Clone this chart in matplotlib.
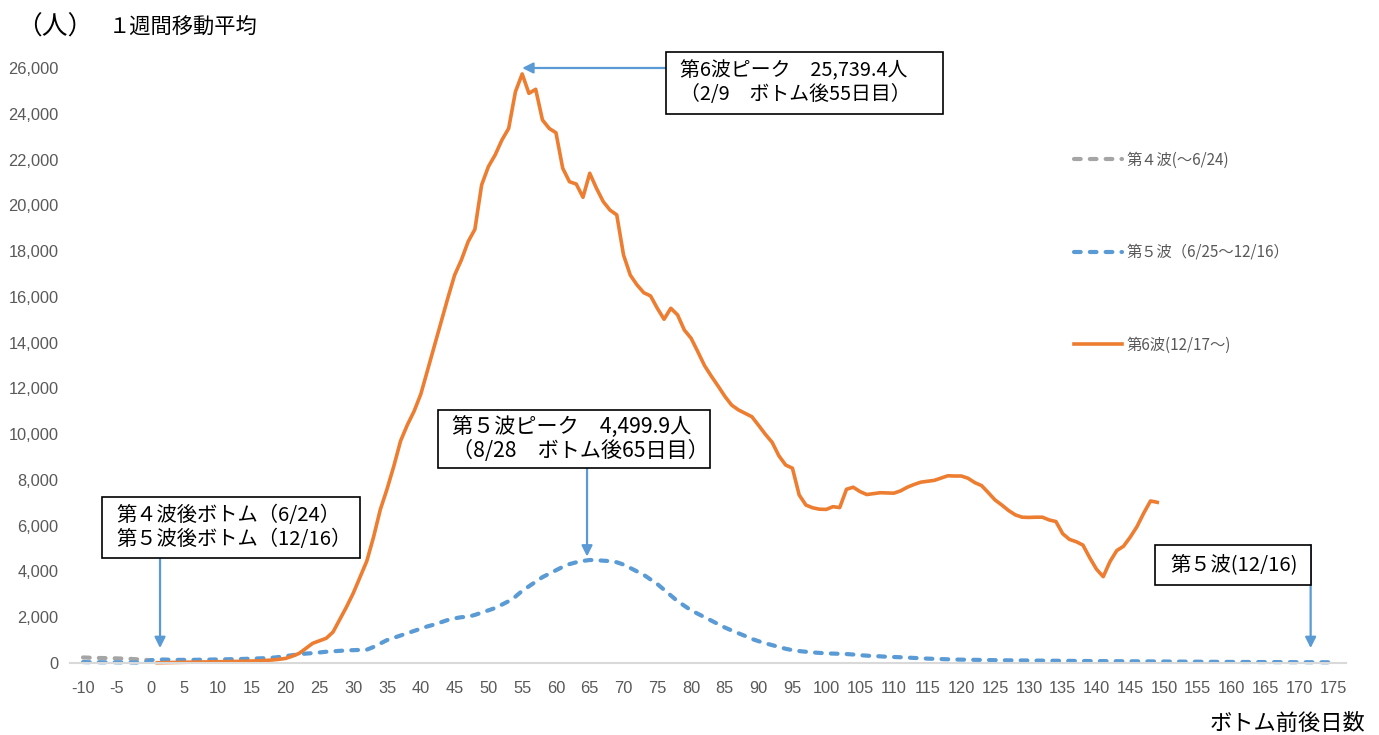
import matplotlib
matplotlib.use("Agg")
import matplotlib.pyplot as plt
from matplotlib.patches import Rectangle
from matplotlib.ticker import FuncFormatter

plt.rcParams['font.family'] = ['Liberation Sans', 'Noto Sans CJK JP']
plt.rcParams['axes.unicode_minus'] = False
JP = ['Noto Sans CJK JP', 'Liberation Sans']

# days counted from each wave's bottom
days_w4 = list(range(-10, 1))
wave4 = [240, 230, 220, 215, 210, 200, 190, 180, 160, 140, 120]

days_w5 = list(range(-10, 176))
wave5 = [40, 35, 35, 30, 30, 30, 25, 25, 20, 20, 120,
         150, 150, 140, 135, 135, 135, 140, 145, 150, 155,
         160, 165, 170, 180, 190, 200, 210, 230, 260, 300,
         340, 380, 410, 430, 460, 490, 510, 530, 550, 560,
         570, 580, 700, 850, 1000, 1100, 1200, 1300, 1400, 1500,
         1600, 1680, 1780, 1880, 1950, 2000, 2020, 2100, 2200, 2300,
         2400, 2550, 2700, 2900, 3150, 3350, 3550, 3750, 3900, 4050,
         4200, 4320, 4400, 4460, 4499.9, 4490, 4470, 4450, 4400, 4300,
         4150, 4000, 3850, 3650, 3450, 3200, 2950, 2700, 2500, 2300,
         2150, 2000, 1850, 1700, 1550, 1420, 1300, 1180, 1050, 950,
         860, 780, 700, 620, 560, 520, 490, 460, 440, 420,
         410, 400, 390, 370, 340, 320, 300, 290, 270, 260,
         250, 235, 220, 205, 190, 180, 170, 160, 150, 145,
         140, 135, 130, 125, 120, 118, 115, 112, 110, 108,
         105, 100, 98, 95, 92, 90, 88, 86, 84, 82,
         80, 78, 76, 74, 72, 70, 68, 66, 64, 62,
         60, 58, 56, 55, 54, 52, 50, 48, 46, 45,
         44, 43, 42, 41, 40, 39, 38, 37, 36, 35,
         34, 33, 32, 31, 30]

days_w6 = list(range(1, 150))
wave6 = [10, 15, 20, 25, 30, 35, 40, 45, 50, 55,
         60, 65, 70, 75, 85, 90, 110, 130, 160, 200,
         300, 420, 640, 860, 970, 1080, 1350, 1900, 2450, 3050,
         3750, 4450, 5500, 6700, 7600, 8600, 9700, 10400, 11000, 11750,
         12800, 13850, 14900, 15950, 16950, 17610, 18410, 18950, 20890, 21690,
         22200, 22850, 23360, 24960, 25739.4, 24890, 25070, 23730, 23360, 23170,
         21620, 21030, 20930, 20350, 21400, 20740, 20160, 19790, 19580, 17830,
         16950, 16520, 16180, 16040, 15500, 15020, 15500, 15210, 14550, 14190,
         13600, 12990, 12530, 12100, 11650, 11270, 11060, 10910, 10760, 10380,
         9990, 9640, 9050, 8650, 8510, 7340, 6900, 6780, 6720, 6710,
         6830, 6790, 7590, 7680, 7490, 7360, 7400, 7440, 7430, 7420,
         7520, 7680, 7800, 7900, 7940, 7980, 8080, 8180, 8170, 8170,
         8070, 7880, 7750, 7440, 7120, 6900, 6660, 6470, 6370, 6360,
         6370, 6370, 6250, 6180, 5650, 5400, 5300, 5150, 4600, 4100,
         3770, 4430, 4910, 5100, 5500, 5960, 6550, 7080, 7020]

peak6_day = 55
x_ticks = list(range(-10, 180, 5))
y_ticks = list(range(0, 26001, 2000))

fig = plt.figure(figsize=(13.79, 7.35), dpi=100)
ax = fig.add_axes([0.0504, 0.098, 0.926, 0.8095])

dash = (0, (1.6, 2.2))
ax.plot(days_w4, wave4, color='#a5a5a5', lw=3, ls=dash, dash_capstyle='round',
        label='第４波(～6/24)', clip_on=False)
ax.plot(days_w5, wave5, color='#5b9bd5', lw=3, ls=dash, dash_capstyle='round',
        label='第５波（6/25～12/16）', clip_on=False)
ax.plot(days_w6, wave6, color='#ed7d31', lw=2.6, solid_joinstyle='round',
        label='第6波(12/17～)', clip_on=False)

ax.set_xlim(-12, 177)
ax.set_ylim(0, 26000)
ax.set_xticks(x_ticks)
ax.set_yticks(y_ticks)
ax.yaxis.set_major_formatter(FuncFormatter(lambda v, p: f'{int(v):,}'))
ax.tick_params(length=0, labelsize=11.8, colors='#595959')
ax.tick_params(axis='x', pad=13)
ax.tick_params(axis='y', pad=8)
for s in ['top', 'right', 'left']:
    ax.spines[s].set_visible(False)
ax.spines['bottom'].set_color('#d9d9d9')
ax.spines['bottom'].set_linewidth(1.5)

leg = ax.legend(loc='upper left', bbox_to_anchor=(0.776, 0.883), frameon=False,
                handlelength=3.1, handletextpad=0.35, labelspacing=4.95,
                prop={'family': JP, 'size': 11})
for t in leg.get_texts():
    t.set_color('#595959')

arrow = dict(arrowstyle='-|>', color='#5b9bd5', lw=1.6, mutation_scale=16,
             shrinkA=0, shrinkB=0)


def callout(x0, x1, y0, y1, tx, ty, label, size):
    ax.add_patch(Rectangle((x0, y0), x1 - x0, y1 - y0, fc='white', ec='black',
                           lw=1.2, clip_on=False, zorder=4))
    ax.text(tx, ty, label, family=JP, fontsize=size, ha='left', va='center',
            linespacing=1.15, zorder=5)


# peak of the 6th wave
ax.annotate('', xy=(peak6_day, 26000), xytext=(76.3, 26000), arrowprops=arrow,
            annotation_clip=False)
callout(76.3, 117.3, 23990, 26700, 78.4, 25345,
        '第6波ピーク　25,739.4人\n（2/9　ボトム後55日目）', 14.3)

# peak of the 5th wave
ax.annotate('', xy=(64.6, 4650), xytext=(64.6, 8521), arrowprops=arrow)
callout(42.5, 82.8, 8521, 11055, 44.6, 9788,
        '第５波ピーク　4,499.9人\n（8/28　ボトム後65日目）', 15.2)

# bottoms of the 4th and 5th waves
ax.annotate('', xy=(1.4, 650), xytext=(1.4, 4588), arrowprops=arrow)
callout(-7.2, 31.0, 4588, 7254, -5.1, 5921,
        '第４波後ボトム（6/24）\n第５波後ボトム（12/16）', 14.6)

ax.annotate('', xy=(171.7, 650), xytext=(171.7, 5156), arrowprops=arrow)
callout(148.6, 171.7, 3408, 5156, 150.9, 4282, '第５波(12/16)', 14.6)

fig.text(0.012, 0.962, '（人）', family=JP, fontsize=18.5, va='center', ha='left')
fig.text(0.079, 0.962, '１週間移動平均', family=JP, fontsize=15.3, va='center',
         ha='left')
fig.text(0.99, 0.0, 'ボトム前後日数', family=JP, fontsize=16, va='bottom',
         ha='right')

fig.savefig('out.png', dpi=100)
